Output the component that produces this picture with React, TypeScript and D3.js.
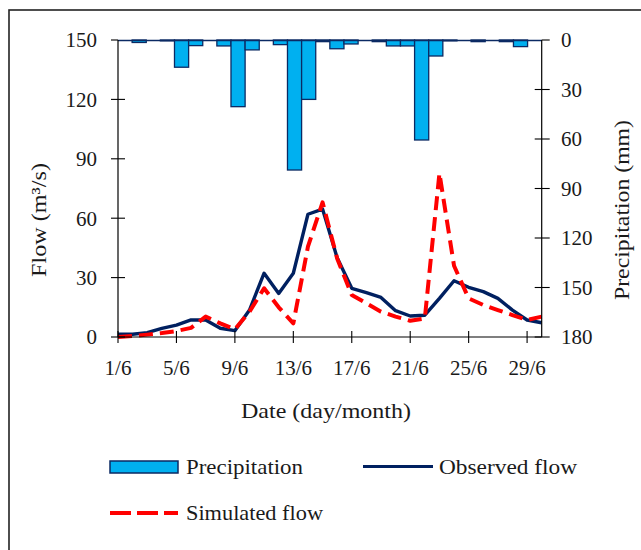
import React from "react";
import * as d3 from "d3";

// Daily values, June (day 1..30)
const days: number[] = d3.range(1, 31);
const precipitation: number[] = [
  0, 1.5, 0, 0.5, 16.5, 3.4, 0, 3.6, 40.4, 6, 0, 2.8, 78.8, 36, 1, 5.3, 2.4, 0,
  1, 3.6, 3.6, 60.6, 9.7, 0.5, 0, 1, 0, 1, 4, 0,
];
const observedFlow: number[] = [
  1.4, 1.4, 2.2, 4.4, 6, 8.6, 8.6, 4.4, 3.2, 13.6, 32.2, 22, 32.2, 62, 64.6, 40,
  24.6, 22.4, 20, 13.3, 10.6, 11, 19.5, 28.4, 25.1, 22.9, 19.5, 13.6, 8.6, 7.2,
];
const simulatedFlow: number[] = [
  0, 0.5, 1.2, 2, 3, 4.6, 10.3, 6.9, 3.9, 12.8, 24.6, 15, 6.9, 45.6, 68, 39.7,
  21.2, 17, 12.8, 10.3, 8.2, 9.4, 82.7, 36, 19.5, 16.2, 13.6, 11.1, 8.6, 10.3,
];
const flowTicks: number[] = [0, 30, 60, 90, 120, 150];
const precipTicks: number[] = [0, 30, 60, 90, 120, 150, 180];
const dateTicks: number[] = [1, 5, 9, 13, 17, 21, 25, 29];

const W = 641;
const H = 550;
const left = 118;
const right = 541.7;
const top = 40;
const bottom = 337;

const FONT = "Liberation Serif";
const NAVY = "#002060";
const BAR_FILL = "#00B0F0";
const BAR_STROKE = "#0B2A63";
const RED = "#FF0000";
const TEXT = "#1a1a1a";

export default function App() {
  const x = d3.scaleLinear().domain([1, 30]).range([left, right]);
  const xBand = d3
    .scaleBand<number>()
    .domain(days)
    .range([left, right])
    .padding(0);
  const yFlow = d3.scaleLinear().domain([0, 150]).range([bottom, top]);
  const yPrecip = d3.scaleLinear().domain([0, 180]).range([top, bottom]);

  const line = d3
    .line<number>()
    .x((_, i) => x(days[i]))
    .y((v) => yFlow(v));

  return (
    <svg
      width={W}
      height={H}
      style={{ position: "absolute", left: 0, top: 0, background: "#fff", fontFamily: FONT }}
    >
      {/* outer frame */}
      <rect x={9} y={10} width={700} height={600} fill="none" stroke="#222" strokeWidth={1.6} />

      {/* precipitation bars hanging from the top */}
      <g>
        {precipitation.map((p, i) =>
          p > 0 ? (
            <rect
              key={i}
              x={xBand(days[i])!}
              y={yPrecip(0)}
              width={xBand.bandwidth()}
              height={yPrecip(p) - yPrecip(0)}
              fill={BAR_FILL}
              stroke={BAR_STROKE}
              strokeWidth={1.3}
            />
          ) : null
        )}
        <line x1={left} x2={right} y1={top + 0.5} y2={top + 0.5} stroke={BAR_STROKE} strokeWidth={1.5} />
      </g>

      {/* flow lines */}
      <path d={line(observedFlow) ?? ""} fill="none" stroke={NAVY} strokeWidth={3.4} strokeLinejoin="round" />
      <path
        d={line(simulatedFlow) ?? ""}
        fill="none"
        stroke={RED}
        strokeWidth={4}
        strokeDasharray="14,7"
        strokeLinejoin="round"
      />

      {/* left axis */}
      <line x1={left} x2={left} y1={top} y2={bottom} stroke="#000" strokeWidth={1.2} />
      {flowTicks.map((t) => (
        <g key={t}>
          <line x1={left - 7} x2={t === 150 ? left : left + 7} y1={yFlow(t)} y2={yFlow(t)} stroke="#000" strokeWidth={1.1} />
          <text x={97} y={yFlow(t)} dy="0.35em" textAnchor="end" fontSize={21} fill={TEXT}>
            {t}
          </text>
        </g>
      ))}

      {/* right axis */}
      <line x1={right} x2={right} y1={top} y2={bottom} stroke="#000" strokeWidth={1.2} />
      {precipTicks.map((t) => (
        <g key={t}>
          <line x1={t === 0 ? right : right - 7} x2={right + 8} y1={yPrecip(t)} y2={yPrecip(t)} stroke="#000" strokeWidth={1.1} />
          <text x={561} y={yPrecip(t)} dy="0.35em" textAnchor="start" fontSize={21} fill={TEXT}>
            {t}
          </text>
        </g>
      ))}

      {/* bottom axis */}
      <line x1={left} x2={right} y1={bottom} y2={bottom} stroke="#000" strokeWidth={1.2} />
      {dateTicks.map((d) => (
        <g key={d}>
          <line x1={x(d)} x2={x(d)} y1={bottom - 6} y2={bottom + 6} stroke="#000" strokeWidth={1.1} />
          <text x={x(d)} y={375} textAnchor="middle" fontSize={21} fill={TEXT}>
            {`${d}/6`}
          </text>
        </g>
      ))}

      {/* axis titles */}
      <text x={326} y={418} textAnchor="middle" fontSize={21} fill={TEXT} textLength={170} lengthAdjust="spacingAndGlyphs">
        Date (day/month)
      </text>
      <text
        transform="translate(46,220) rotate(-90)"
        textAnchor="middle"
        fontSize={21}
        fill={TEXT}
        textLength={114}
        lengthAdjust="spacingAndGlyphs"
      >
        Flow (m³/s)
      </text>
      <text
        transform="translate(629,210) rotate(-90)"
        textAnchor="middle"
        fontSize={21}
        fill={TEXT}
        textLength={180}
        lengthAdjust="spacingAndGlyphs"
      >
        Precipitation (mm)
      </text>

      {/* legend */}
      <rect x={110} y={461} width={68} height={12} fill={BAR_FILL} stroke={BAR_STROKE} strokeWidth={1.5} />
      <text x={186} y={474} fontSize={21} fill={TEXT} textLength={117} lengthAdjust="spacingAndGlyphs">
        Precipitation
      </text>
      <line x1={363} x2={433} y1={466.5} y2={466.5} stroke={NAVY} strokeWidth={3} />
      <text x={439} y={474} fontSize={21} fill={TEXT} textLength={138} lengthAdjust="spacingAndGlyphs">
        Observed flow
      </text>
      <line x1={110} x2={178} y1={513} y2={513} stroke={RED} strokeWidth={3.8} strokeDasharray="21,6" />
      <text x={186} y={520} fontSize={21} fill={TEXT} textLength={137} lengthAdjust="spacingAndGlyphs">
        Simulated flow
      </text>
    </svg>
  );
}
